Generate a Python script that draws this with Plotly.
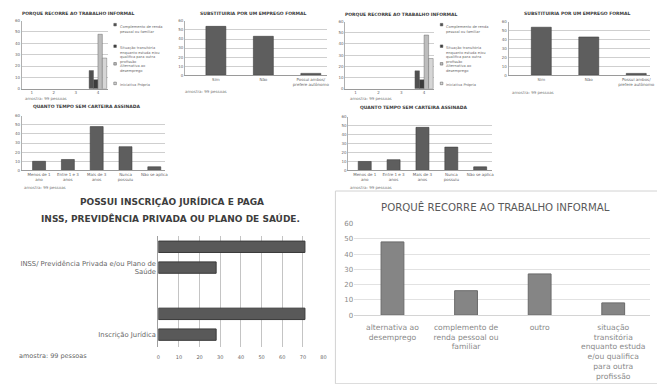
import plotly.graph_objects as go

W, H = 657, 384

# ---------------- data ----------------
reason_names = ["Complemento de renda<br>pessoal ou familiar",
                "Situação transitória<br>enquanto estuda e/ou<br>qualifica para outra<br>profissão",
                "Alternativa ao<br>desemprego",
                "Iniciativa Própria"]
reason_values = [16, 8, 48, 27]
small_cats = ["1", "2", "3", "4"]

subst_cats = ["Sim", "Não", "Possui ambos/<br>prefere autônomo"]
subst_values = [54, 43, 2]

tempo_cats = ["Menos de 1<br>ano", "Entre 1 e 3<br>anos", "Mais de 3<br>anos", "Nunca<br>possuiu", "Não se aplica"]
tempo_values = [10, 12, 48, 26, 4]

insc_cats = ["Inscrição Jurídica", "INSS/ Previdência Privada e/ou Plano de<br>Saúde"]
insc_sim = [28, 28]
insc_nao = [71, 71]

informal_cats = ["alternativa ao<br>desemprego",
                 "complemento de<br>renda pessoal ou<br>familiar",
                 "outro",
                 "situação<br>transitória<br>enquanto estuda<br>e/ou qualifica<br>para outra<br>profissão"]
informal_values = [48, 16, 27, 8]

sample_note = "amostra: 99 pessoas"

# ---------------- helpers ----------------
def dx(a, b):
    return [a / W, b / W]

def dy(top, bottom):
    return [1 - bottom / H, 1 - top / H]

FONT = "DejaVu Sans"
annotations = []
shapes = []

def note(text, x, y, size, color="#555", xanchor="left", yanchor="middle", align="left"):
    annotations.append(dict(text=text, x=x / W, y=1 - y / H, xref="paper", yref="paper",
                            showarrow=False, xanchor=xanchor, yanchor=yanchor, align=align,
                            font=dict(size=size, color=color, family=FONT)))

def box(x0, y0, x1, y1, fill, line="rgba(0,0,0,0)"):
    shapes.append(dict(type="rect", xref="paper", yref="paper",
                       x0=x0 / W, x1=x1 / W, y0=1 - y1 / H, y1=1 - y0 / H,
                       fillcolor=fill, line=dict(color=line, width=0.5)))

fig = go.Figure()
layout = dict(width=W, height=H, margin=dict(l=0, r=0, t=0, b=0), autosize=False,
              paper_bgcolor="white", plot_bgcolor="white", showlegend=False,
              barmode="overlay", font=dict(family=FONT))

def small_axes(n, xdom, ydom, xrange):
    sx = "" if n == 1 else str(n)
    layout["xaxis" + sx] = dict(domain=dx(*xdom), anchor="y" + sx, type="category",
                                range=xrange, tickangle=0, showgrid=False, showline=True,
                                linecolor="#9a9a9a", linewidth=1, ticks="",
                                tickfont=dict(size=4, color="#666"), fixedrange=True)
    layout["yaxis" + sx] = dict(domain=dy(*ydom), anchor="x" + sx, range=[0, 60], dtick=10,
                                showgrid=True, gridcolor="#cfcfcf", gridwidth=1, showline=True,
                                linecolor="#b0b0b0", zeroline=False, ticks="",
                                tickfont=dict(size=4, color="#666"), fixedrange=True)

reason_colors = ["#505050", "#3c3c3c", "#bdbdbd", "#d6d6d6"]
reason_offsets = [-0.4, -0.2, 0.0, 0.2]

def add_reason_cluster(sx, legend_x):
    for name, val, col, off in zip(reason_names, reason_values, reason_colors, reason_offsets):
        yvals = [None] * (len(small_cats) - 1) + [val]
        fig.add_trace(go.Bar(x=small_cats, y=yvals, name=name, width=0.2, offset=off,
                             marker=dict(color=col, line=dict(color="#555", width=0.4)),
                             xaxis="x" + sx, yaxis="y" + sx))
    tops = [19, 41, 59, 79]
    for name, col, t in zip(reason_names, reason_colors, tops):
        box(legend_x, t + 0.8, legend_x + 2.6, t + 3.4, col, "#555")
        note(name, legend_x + 4, t, 3.6, color="#6a6a6a", yanchor="top")

def add_subst(sx):
    fig.add_trace(go.Bar(x=subst_cats, y=subst_values, width=0.42, offset=-0.21,
                         marker=dict(color="#5e5e5e", line=dict(color="#3e3e3e", width=0.6)),
                         xaxis="x" + sx, yaxis="y" + sx))

def add_tempo(sx):
    fig.add_trace(go.Bar(x=tempo_cats, y=tempo_values, width=0.45, offset=-0.225,
                         marker=dict(color="#5e5e5e", line=dict(color="#3e3e3e", width=0.6)),
                         xaxis="x" + sx, yaxis="y" + sx))

# A / D : PORQUE RECORRE (small)
small_axes(1, (20, 107), (17, 86.5), [-0.45, 3.45])
add_reason_cluster("", 113)
small_axes(4, (347, 437), (18, 86.5), [-0.45, 3.45])
add_reason_cluster("4", 443)

# B / E : SUBSTITUIRIA
small_axes(2, (185, 328), (17.3, 72.7), [-0.65, 2.33])
add_subst("2")
small_axes(5, (512, 655), (18.3, 72.7), [-0.69, 2.29])
add_subst("5")

# C / F : QUANTO TEMPO
small_axes(3, (20, 165), (114, 170), [-0.6, 4.38])
add_tempo("3")
small_axes(6, (350, 495), (115, 170), [-0.57, 4.4])
add_tempo("6")

# G : horizontal bars
fig.add_trace(go.Bar(y=insc_cats, x=insc_sim, orientation="h", name="Sim", width=0.17, offset=-0.085,
                     marker=dict(color="#595959", line=dict(color="#3a3a3a", width=1)),
                     xaxis="x7", yaxis="y7"))
fig.add_trace(go.Bar(y=insc_cats, x=insc_nao, orientation="h", name="Não", width=0.17, offset=0.225,
                     marker=dict(color="#595959", line=dict(color="#3a3a3a", width=1)),
                     xaxis="x7", yaxis="y7"))
layout["xaxis7"] = dict(domain=dx(158, 325), anchor="y7", range=[0, 80], dtick=10, showgrid=True,
                        gridcolor="#c4c4c4", gridwidth=1, zeroline=False, showline=False, ticks="",
                        ticklabelstandoff=6,
                        tickfont=dict(size=5, color="#666"), fixedrange=True)
layout["yaxis7"] = dict(domain=dy(237, 350), anchor="x7", type="category", range=[-0.18, 1.47],
                        showgrid=False, showline=True, linecolor="#a0a0a0", linewidth=1,
                        ticks="", tickfont=dict(size=6.8, color="#666"), fixedrange=True)

# H : PORQUÊ RECORRE (large)
fig.add_trace(go.Bar(x=informal_cats, y=informal_values, width=0.31, offset=-0.155,
                     marker=dict(color="#858585", line=dict(color="#6a6a6a", width=1)),
                     xaxis="x8", yaxis="y8"))
layout["xaxis8"] = dict(domain=dx(356, 655), anchor="y8", type="category", range=[-0.52, 3.5],
                        tickangle=0, showgrid=False, showline=False, ticks="",
                        ticklabelstandoff=6,
                        tickfont=dict(size=7.6, color="#8a8a8a"), fixedrange=True)
layout["yaxis8"] = dict(domain=dy(224.3, 317.7), anchor="x8", range=[0, 60], dtick=10,
                        showgrid=True, gridcolor="#e2e2e2", gridwidth=1, zeroline=True,
                        zerolinecolor="#d4d4d4", zerolinewidth=1, showline=False, ticks="",
                        tickfont=dict(size=7, color="#8a8a8a"), fixedrange=True)

# titles
note("<b>PORQUE RECORRE AO TRABALHO INFORMAL</b>", 77, 10, 4.5, color="#3a3a3a", xanchor="center")
note("<b>SUBSTITUIRIA POR UM EMPREGO FORMAL</b>", 254, 10, 4.5, color="#3a3a3a", xanchor="center")
note("<b>QUANTO TEMPO SEM CARTEIRA ASSINADA</b>", 86, 105, 4.5, color="#3a3a3a", xanchor="center")
note("<b>PORQUE RECORRE AO TRABALHO INFORMAL</b>", 404, 11, 4.5, color="#3a3a3a", xanchor="center")
note("<b>SUBSTITUIRIA POR UM EMPREGO FORMAL</b>", 582, 10, 4.5, color="#3a3a3a", xanchor="center")
note("<b>QUANTO TEMPO SEM CARTEIRA ASSINADA</b>", 416, 105.5, 4.5, color="#3a3a3a", xanchor="center")
note("<b>POSSUI INSCRIÇÃO JURÍDICA E PAGA</b>", 172, 202, 9, color="#3d3d3d", xanchor="center")
note("<b>INSS, PREVIDÊNCIA PRIVADA OU PLANO DE SAÚDE.</b>", 170, 219, 9, color="#3d3d3d", xanchor="center")
note("PORQUÊ RECORRE AO TRABALHO INFORMAL", 499, 207, 10.2, color="#5a5a5a", xanchor="center")

# sample notes
note(sample_note, 21, 96.5, 4, color="#777")
note(sample_note, 183, 89, 4, color="#777")
note(sample_note, 20, 187, 4, color="#777")
note(sample_note, 350, 96.5, 4, color="#777")
note(sample_note, 513, 90, 4, color="#777")
note(sample_note, 350, 187, 4, color="#777")
note(sample_note, 15, 359, 6.5, color="#666")

# frame of the bottom-right panel
shapes.append(dict(type="rect", xref="paper", yref="paper",
                   x0=337 / W, x1=1.01, y0=-0.01, y1=1 - 191 / H,
                   line=dict(color="#d2d2d2", width=1), fillcolor="rgba(0,0,0,0)", layer="below"))

layout["annotations"] = annotations
layout["shapes"] = shapes

fig.update_layout(**layout)
fig.write_html("out.html", config={"displayModeBar": False},
               post_script="document.body.style.margin='0px';")
